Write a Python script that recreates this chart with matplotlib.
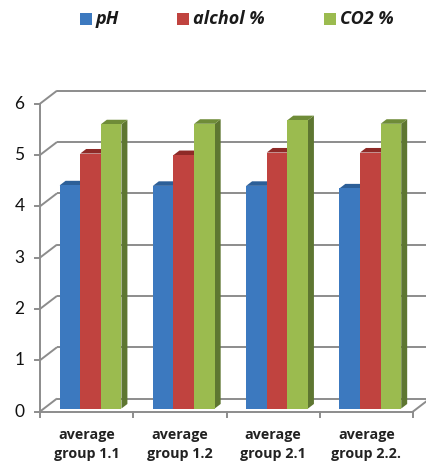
import matplotlib
matplotlib.use("Agg")
import matplotlib.pyplot as plt
from matplotlib.patches import Polygon, Rectangle

categories = ["average\ngroup 1.1", "average\ngroup 1.2", "average\ngroup 2.1", "average\ngroup 2.2."]
series_names = ["pH", "alchol %", "CO2 %"]
ph_values = [4.35, 4.34, 4.34, 4.29]
alcohol_values = [4.97, 4.94, 4.99, 4.99]
co2_values = [5.54, 5.55, 5.62, 5.55]
y_ticks = [0, 1, 2, 3, 4, 5, 6]

front_colors = ["#3C79BF", "#C0433F", "#9BBB4F"]
top_colors = ["#2C5F98", "#8E2A27", "#6F8C38"]
side_colors = ["#2A558A", "#86302C", "#5E7631"]
grid_color = "#8C8C8C"

W, H = 426, 466
fig = plt.figure(figsize=(W / 100, H / 100), dpi=100)
ax = fig.add_axes([0, 0, 1, 1])
ax.set_xlim(-0.929, 3.639)
ax.set_ylim(-1.062, 8.021)
ax.axis("off")

# depth of the back wall and of the bars (fractions of the full depth)
DX, DY = 0.1823, 0.2534
F0, F1 = 0.23, 0.58
left, right = -0.5, len(categories) - 0.5

# back wall gridlines with the diagonal connectors from the front axis
for v in y_ticks:
    ax.plot([left, left + DX], [v, v + DY], color=grid_color, lw=1.4, zorder=1,
            solid_capstyle="butt")
    ax.plot([left + DX, right + DX], [v + DY, v + DY], color=grid_color, lw=1.4,
            zorder=1, solid_capstyle="butt")
    ax.plot([left - 0.055, left], [v, v], color=grid_color, lw=1.4, zorder=1)
    ax.text(left - 0.22, v, str(v), ha="center", va="center", fontsize=12.5,
            family="Lato", color="#111111")

# front vertical axis
ax.plot([left, left], [0, y_ticks[-1]], color=grid_color, lw=1.4, zorder=1)
# floor front edge and right diagonal
ax.plot([left, right], [0, 0], color=grid_color, lw=1.4, zorder=5)
ax.plot([right, right + DX], [0, DY], color=grid_color, lw=1.4, zorder=5)
for k in range(len(categories) + 1):
    xb = left + k
    ax.plot([xb, xb], [0, -0.11], color=grid_color, lw=1.4, zorder=5)

# bars
all_values = [ph_values, alcohol_values, co2_values]
n = len(all_values)
w = 0.221
bx, by = F0 * DX, F0 * DY
ddx, ddy = (F1 - F0) * DX, (F1 - F0) * DY
z = 2
for i in range(len(categories)):
    for s in range(n):
        v = all_values[s][i]
        x0 = i - n * w / 2 + s * w + bx
        side = Polygon([(x0 + w, by), (x0 + w + ddx, by + ddy),
                        (x0 + w + ddx, by + ddy + v), (x0 + w, by + v)],
                       closed=True, facecolor=side_colors[s], edgecolor="none", zorder=z)
        top = Polygon([(x0, by + v), (x0 + w, by + v),
                       (x0 + w + ddx, by + v + ddy), (x0 + ddx, by + v + ddy)],
                      closed=True, facecolor=top_colors[s], edgecolor="none", zorder=z)
        ax.add_patch(side)
        ax.add_patch(top)
        ax.bar(x0, v, width=w, bottom=by, align="edge", color=front_colors[s],
               edgecolor="none", zorder=z + 0.5)
        z += 1

# category labels
for i, lab in enumerate(categories):
    ax.text(i, -0.33, lab, ha="center", va="top", fontsize=10.3, fontweight="bold",
            family="Open Sans", color="#222222", linespacing=1.4)

# legend: colour key squares and italic bold names across the top
key_left = [80, 177, 324]
for s, name in enumerate(series_names):
    x = key_left[s]
    fig.add_artist(Rectangle((x / W, 1 - 25 / H), 12 / W, 12 / H,
                             transform=fig.transFigure, facecolor=front_colors[s],
                             edgecolor="none"))
    fig.text((x + 16) / W, 1 - 19.5 / H, name, ha="left", va="center",
             family="Open Sans", fontweight="bold", style="italic", fontsize=13,
             color="#1A1A1A")

fig.savefig("out.png", dpi=100)
